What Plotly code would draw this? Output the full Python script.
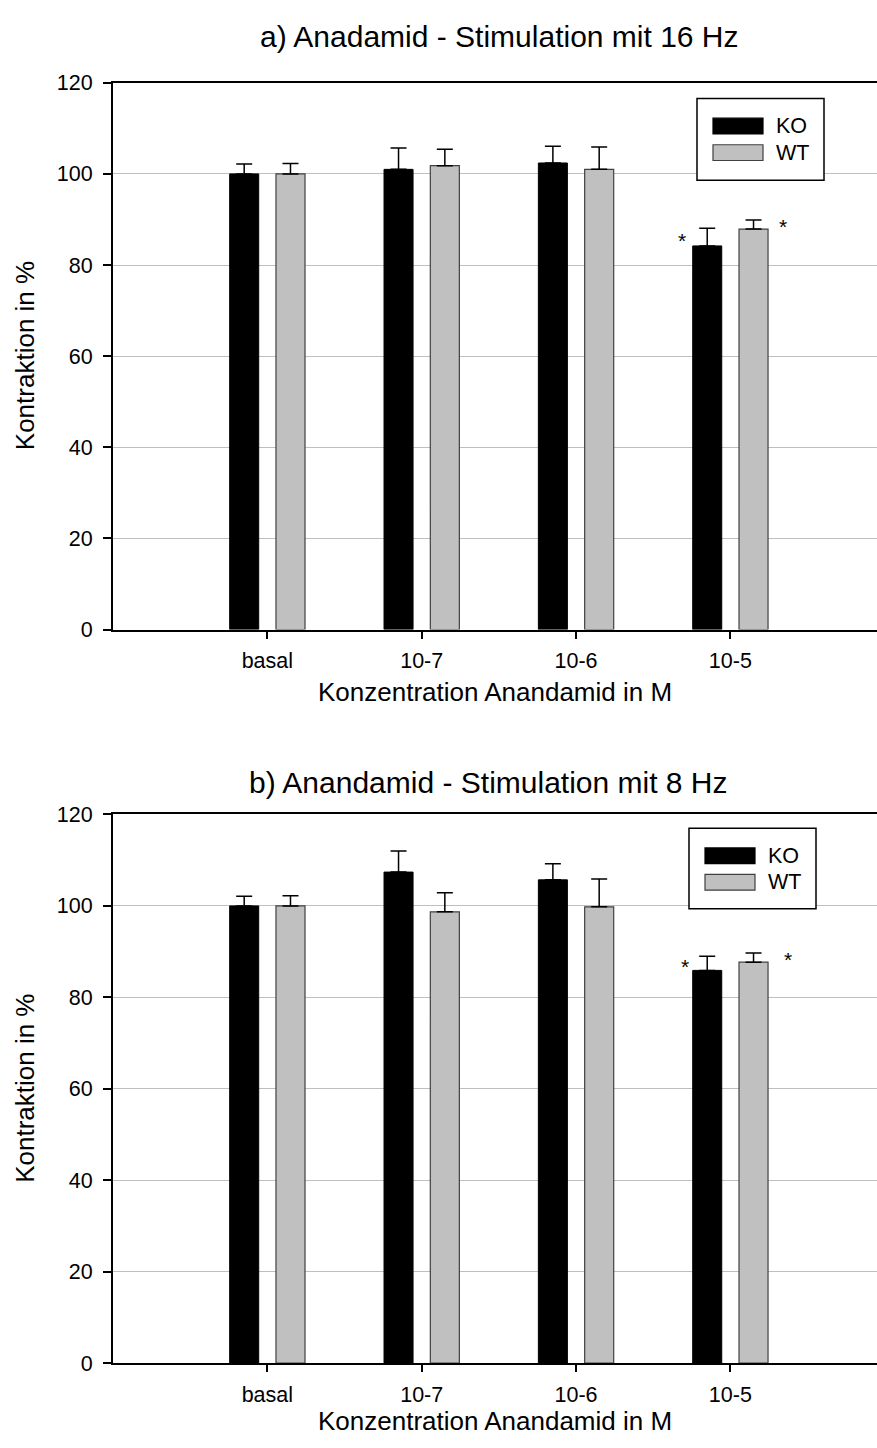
import plotly.graph_objects as go

# ---------------- data ----------------
categories = ["basal", "10-7", "10-6", "10-5"]
series_names = ["KO", "WT"]

a_ko = [100.0, 101.0, 102.4, 84.2]
a_ko_err = [2.2, 4.7, 3.7, 3.9]
a_wt = [100.0, 101.8, 101.0, 87.9]
a_wt_err = [2.3, 3.6, 4.9, 2.0]

b_ko = [100.0, 107.4, 105.7, 85.9]
b_ko_err = [2.1, 4.6, 3.5, 3.1]
b_wt = [100.0, 98.7, 99.8, 87.7]
b_wt_err = [2.2, 4.2, 6.1, 2.0]

significant = [False, False, False, True]

y_ticks = [0, 20, 40, 60, 80, 100, 120]

title_a = "a) Anadamid - Stimulation mit 16 Hz"
title_b = "b) Anandamid - Stimulation mit 8 Hz"
x_title = "Konzentration Anandamid in M"
y_title = "Kontraktion in %"

# ---------------- style ----------------
W, H = 877, 1448
FONT = "Liberation Sans, Arial, Helvetica, sans-serif"
KO_FILL = "#000000"
WT_FILL = "#c0c0c0"
WT_LINE = "#404040"
GRID = "#bfbfbf"
TICK_SIZE = 21.5


def fx(p):
    return p / W


def fy(p):
    return 1 - p / H


panels = [
    dict(ko=a_ko, ko_err=a_ko_err, wt=a_wt, wt_err=a_wt_err, xa="x", ya="y",
         top=73, bottom=629, title=title_a, title_x=499, title_y=26,
         xtitle_y=692, legend=(697, 89, 824, 172), star_dx=(-11, 15),
         star_dy=(-12, -7)),
    dict(ko=b_ko, ko_err=b_ko_err, wt=b_wt, wt_err=b_wt_err, xa="x2", ya="y2",
         top=817, bottom=1375, title=title_b, title_x=488, title_y=785,
         xtitle_y=1434, legend=(689, 831, 816, 913), star_dx=(-8, 20),
         star_dy=(-10, -6)),
]

fig = go.Figure()
shapes = []
annotations = []

BARGAP = 0.4
BARGROUPGAP = 0.373
slot = (1 - BARGAP) / 2
half_bar = slot * (1 - BARGROUPGAP) / 2

for k, p in enumerate(panels):
    fig.add_trace(go.Bar(
        x=categories, y=p["ko"], name=series_names[0], xaxis=p["xa"], yaxis=p["ya"],
        marker=dict(color=KO_FILL, line=dict(color="#000000", width=1)),
        error_y=dict(type="data", array=p["ko_err"], arrayminus=[0] * len(p["ko"]),
                     symmetric=False, color="#000000", thickness=1.5, width=8),
        showlegend=False))
    fig.add_trace(go.Bar(
        x=categories, y=p["wt"], name=series_names[1], xaxis=p["xa"], yaxis=p["ya"],
        marker=dict(color=WT_FILL, line=dict(color=WT_LINE, width=1.2)),
        error_y=dict(type="data", array=p["wt_err"], arrayminus=[0] * len(p["wt"]),
                     symmetric=False, color="#000000", thickness=1.5, width=8),
        showlegend=False))

    # significance stars
    for i, sig in enumerate(significant):
        if not sig:
            continue
        ko_x = i - slot / 2 - half_bar
        wt_x = i + slot / 2 + half_bar
        annotations.append(dict(x=ko_x, y=p["ko"][i] + p["ko_err"][i], xref=p["xa"], yref=p["ya"],
                                text="*", showarrow=False, xanchor="center", yanchor="middle",
                                xshift=p["star_dx"][0], yshift=p["star_dy"][0],
                                font=dict(family=FONT, size=21, color="#000000")))
        annotations.append(dict(x=wt_x, y=p["wt"][i] + p["wt_err"][i], xref=p["xa"], yref=p["ya"],
                                text="*", showarrow=False, xanchor="center", yanchor="middle",
                                xshift=p["star_dx"][1], yshift=p["star_dy"][1],
                                font=dict(family=FONT, size=21, color="#000000")))

    # titles
    annotations.append(dict(x=fx(p["title_x"]), y=fy(p["title_y"]), xref="paper", yref="paper",
                            text=p["title"], showarrow=False, xanchor="center", yanchor="middle",
                            font=dict(family=FONT, size=30, color="#000000")))
    annotations.append(dict(x=fx(495), y=fy(p["xtitle_y"]), xref="paper", yref="paper",
                            text=x_title, showarrow=False, xanchor="center", yanchor="middle",
                            font=dict(family=FONT, size=26, color="#000000")))
    annotations.append(dict(x=fx(25), y=fy((p["top"] + p["bottom"]) / 2), xref="paper", yref="paper",
                            text=y_title, showarrow=False, xanchor="center", yanchor="middle",
                            textangle=-90, font=dict(family=FONT, size=26, color="#000000")))

    # legend (drawn)
    lx0, ly0, lx1, ly1 = p["legend"]
    shapes.append(dict(type="rect", xref="paper", yref="paper",
                       x0=fx(lx0), x1=fx(lx1), y0=fy(ly1), y1=fy(ly0),
                       line=dict(color="#000000", width=1.5), fillcolor="#ffffff", layer="above"))
    sx0, sx1 = lx0 + 16, lx0 + 66
    rows = [(ly0 + 20, ly0 + 36, KO_FILL, "#000000", series_names[0]),
            (ly0 + 47, ly0 + 63, WT_FILL, WT_LINE, series_names[1])]
    for (r0, r1, fill, line, name) in rows:
        shapes.append(dict(type="rect", xref="paper", yref="paper",
                           x0=fx(sx0), x1=fx(sx1), y0=fy(r1), y1=fy(r0),
                           line=dict(color=line, width=1.2), fillcolor=fill, layer="above"))
        annotations.append(dict(x=fx(sx1 + 11), y=fy((r0 + r1) / 2), xref="paper", yref="paper",
                                text=name, showarrow=False, xanchor="left", yanchor="middle",
                                font=dict(family=FONT, size=21.5, color="#000000")))

x_domain = [fx(113), 1.0]
axis_common_x = dict(type="category", range=[-1.0, 3.95], showgrid=False, zeroline=False,
                     showline=True, linecolor="#000000", linewidth=2, mirror=True,
                     ticks="outside", ticklen=7, tickwidth=1.5, tickcolor="#000000",
                     ticklabelstandoff=4,
                     tickfont=dict(family=FONT, size=TICK_SIZE, color="#000000"),
                     domain=x_domain, fixedrange=True)
axis_common_y = dict(range=[0, 120], tickvals=y_ticks, ticktext=[str(v) for v in y_ticks],
                     showgrid=True, gridcolor=GRID, gridwidth=1.2, zeroline=False,
                     showline=True, linecolor="#000000", linewidth=2,
                     ticks="outside", ticklen=8, tickwidth=1.5, tickcolor="#000000",
                     ticklabelstandoff=6,
                     tickfont=dict(family=FONT, size=TICK_SIZE, color="#000000"), fixedrange=True)

fig.update_layout(
    width=W, height=H,
    margin=dict(l=0, r=0, t=0, b=0),
    paper_bgcolor="#ffffff", plot_bgcolor="#ffffff",
    barmode="group", bargap=BARGAP, bargroupgap=BARGROUPGAP,
    showlegend=False,
    xaxis=dict(axis_common_x, anchor="y"),
    yaxis=dict(axis_common_y, anchor="x",
               domain=[fy(panels[0]["bottom"]), fy(panels[0]["top"])]),
    xaxis2=dict(axis_common_x, anchor="y2"),
    yaxis2=dict(axis_common_y, anchor="x2",
                domain=[fy(panels[1]["bottom"]), fy(panels[1]["top"])]),
    shapes=shapes,
    annotations=annotations,
)

fig.write_html("out.html")
